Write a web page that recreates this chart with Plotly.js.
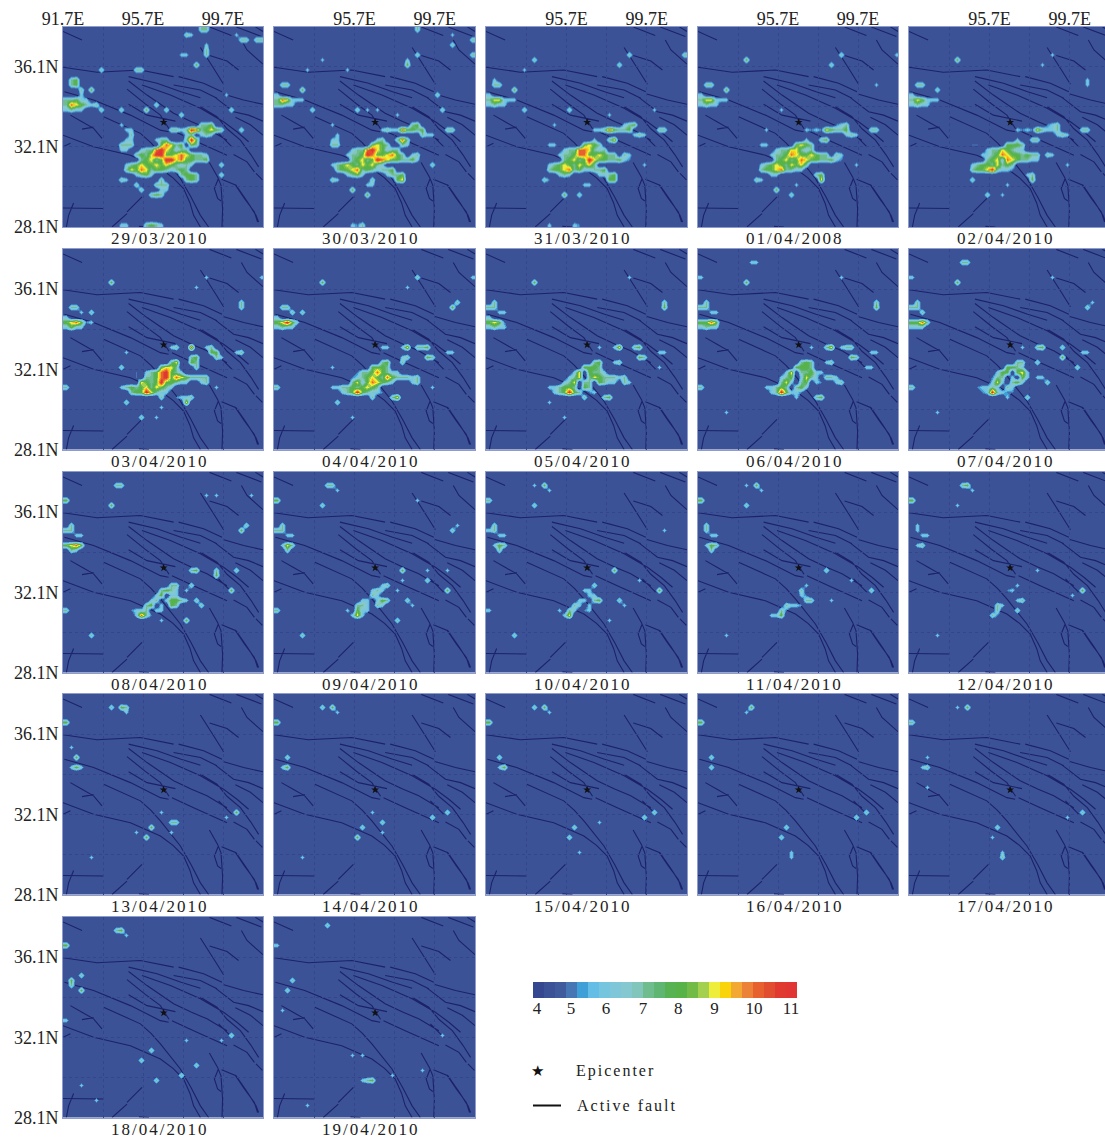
<!DOCTYPE html>
<html><head><meta charset="utf-8">
<script src="https://cdn.plot.ly/plotly-3.0.1.min.js"></script>
<style>html,body{margin:0;padding:0;background:#fff}#chart{width:1105px;height:1138px}
.annotation-text{letter-spacing:2px}</style></head>
<body><div id="chart"></div>
<script>
// Panel labels, as printed
const dates=["29/03/2010","30/03/2010","31/03/2010","01/04/2008","02/04/2010","03/04/2010","04/04/2010","05/04/2010","06/04/2010","07/04/2010","08/04/2010","09/04/2010","10/04/2010","11/04/2010","12/04/2010","13/04/2010","14/04/2010","15/04/2010","16/04/2010","17/04/2010","18/04/2010","19/04/2010"];
// Colour scale steps
const cbColors=["#35478f","#3b5297","#3f5b9c","#4776b4","#3fa0d8","#64bde4","#76c5de","#7fc7d8","#85c8cf","#82c5bb","#6fbd8f","#5fb673","#57b352","#57b348","#72bb46","#a3d04f","#eeee3a","#fad40a","#f2a833","#eb8238","#e6612d","#e14e2f","#e03a30","#e03532"];
const cbTickPos=[0.36,3.45,6.64,10,13.2,16.5,20.1,23.45];
const cbTickText=["4","5","6","7","8","9","10","11"];
const zMin=3.89, zMax=11.17, bgValue=3.4;
const epicenter=[96.73,33.32];
const gridLon=[91.7,93.7,95.7,97.7,99.7], gridLat=[28.1,30.1,32.1,34.1,36.1];
// Fault traces, lon/lat pairs
const faults=[
[91.7,37.85,92.65,37.43],[91.7,36.07,93.4,35.82,95.57,35.93,97.23,35.6],[97.48,35.6,98.73,35.27,99.65,34.85],
[94.98,35.6,96.4,35.27,97.6,34.85,98.57,34.55],[94.98,35.38,95.9,34.68,97.23,33.77,98.1,33.36,98.9,33.02,99.9,32.43],
[95.65,35.18,97.07,34.68,98.57,34.02,99.73,33.35,100.4,32.85,100.98,32.35],[97.23,35.18,98.57,34.93,99.4,34.52],
[94.9,34.98,95.8,34.25,96.57,33.68,97,33.0],[94.98,34.22,95.9,33.68,97.32,33.38],
[93.73,33.6,95.57,32.77,96.1,32.3,96.57,31.77,97.57,30.52,98.1,29.6,98.57,28.68,98.98,28.1],
[91.77,34.85,93.23,34.43,95.07,33.68,96.57,32.93,96.98,32.85],
[91.7,32.68,93.23,32.1,95.07,31.68,96.57,31.02,97.2,30.55,97.73,30.02,98.05,29.3,98.23,28.68,98.57,28.1],
[97.15,32.93,98.23,32.43,99.9,31.68],[92.07,33.68,92.65,33.35,93.23,33.02,93.65,32.52],[92.65,32.98,93.23,33.08],[91.7,32.1,92.07,32.28],
[98.57,37.05,99.23,36.02,99.73,35.22],[99.03,36.65,99.9,36.38,100.48,35.93],[99.03,38.08,100.12,37.65],[100.37,38.08,101.62,37.6],[101.32,38.08,101.7,37.85],
[100.62,37.43,100.9,36.93,101.7,36.22],[99.7,34.73,100.73,34.43,101.7,34.22],[99.32,34.55,100.23,33.85,100.98,33.68,101.7,33.38],
[98.57,34.1,99.4,33.6,99.9,33.0,100.57,32.43,101.1,31.7,101.48,31.1],[100.32,33.57,101.07,33.2,101.7,32.68],[99.48,32.77,100.15,32.1],
[100.23,31.72,100.9,31.35,101.27,30.85],[101.35,30.77,101.67,30.45],[99.02,31.32,99.43,30.6,99.6,30.18,99.68,29.0,99.65,28.1],
[99.47,30.52,99.27,30.02,99.43,29.52,99.6,29.4],[99.63,30.48,100.35,30.18,100.93,29.35,101.35,28.68,101.48,28.35],
[100.3,30.22,100.77,29.52,101.27,28.85,101.43,28.35],[91.7,29.05,93.73,29.02],[92.23,29.3,91.98,28.68,91.87,28.1],
[95.65,29.6,94.9,28.85],[94.9,28.77,94.15,28.1],[95.5,28.13,96.0,28.1]];
// Anomaly values by panel: "row:column:cells", one hex digit per 5-pixel cell ("." = background)
const d0=["0:27:77","1:24:76","1:34:6","2:35:77","2:38:77","3:28:6","4:28:7","5:23:66","5:28:7","7:26:8","8:7:7","8:14:77","10:1:78","11:1:78","12:3:7","12:5:8","13:3:6","13:32:6","14:0:77866","15:0:7a98767","16:0:6766","16:7:7","16:11:7","16:16:8","15:18:7","16:20:7","17:23:7","16:33:7","19:11:6","19:27:778","20:12:66","20:21:7767ba78987","20:35:7","21:13:7","21:24:67","21:27:676","22:12:66","22:18:677","22:24:7b8","23:11:777","23:19:8a978","23:25:87","24:11:66","24:15:677ab98677","25:14:7879bb889a987","25:27:76","26:15:78978bb9a88778","27:12:67898898987676","27:31:7","28:12:798a978876787","29:14:6786","29:23:7887","29:31:7","30:11:76","30:19:7","30:24:787","31:14:7","31:18:777","32:15:7","32:19:66","33:17:787","39:11:66","39:16:7876"];
const d1=["0:28:7","1:35:6","2:39:7","3:35:7","5:28:7","5:39:7","6:9:6","6:26:6","7:26:8","8:6:6","8:14:6","11:1:77","12:5:8","13:0:6","13:32:7","14:0:7a966","14:5:6","15:0:7766","16:7:7","16:16:7","16:18:6","16:20:6","16:33:7","17:24:6","19:11:6","19:27:78","20:21:6766a8878","20:34:77","21:12:6","21:29:766","22:11:66","22:24:7a7","22:20:67","23:11:77","23:19:8987","23:25:76","24:15:677ab98677","25:14:6778ba889a87","25:27:67","26:15:78978ba9887786","27:11:67898798976","27:31:7","28:12:7889a7876778","29:14:6786","29:22:6778","30:11:76","30:19:7","30:24:89","31:18:66","32:15:8","33:18:8","39:15:65","39:17:7"];
const d2=["5:28:7","6:9:7","7:26:7","5:39:7","8:7:6","10:1:6","11:1:77","12:5:8","13:0:6","14:0:79966","14:5:6","15:0:6766","16:7:7","16:16:7","16:33:6","17:24:6","19:13:6","19:27:678","20:21:667a8778","20:34:77","21:29:676","22:24:79","22:21:6","23:12:66","23:19:8987","24:15:677aa9767","25:14:6778aa889877","25:27:76","26:15:78978b98877865","27:12:6789879897","27:31:6","28:12:7889a7866778","29:14:676","29:22:6678","30:11:75","30:24:88","31:19:66","33:15:8","33:18:7","39:17:65","39:12:6"];
const d3=["5:28:7","5:39:6","7:26:7","6:9:8","11:1:77","11:35:6","12:5:8","13:0:6","14:0:79966","14:5:6","15:0:6766","16:16:6","19:27:567","20:13:6","20:21:656598778","20:34:77","21:29:676","22:24:78","22:21:6","23:12:66","23:19:8987","24:15:67799767","25:14:6778a9889877","25:27:76","26:15:78978a98877865","27:12:6789879897","27:31:6","28:12:7889a7766","29:23:78","29:14:66","30:11:76","30:24:9","31:19:6","32:15:8","33:18:7"];
const d4=["5:28:6","6:9:8","7:26:6","5:39:6","10:35:6","11:35:6","11:1:77","12:5:7","13:0:6","14:0:79866","14:5:6","15:0:6766","19:27:567","20:21:656597667","20:34:77","21:29:676","22:24:77","22:21:6","23:12:55","23:19:8887","24:15:67798766","25:14:6678a9887877","25:27:76","26:15:7896a987766","27:12:678879787","27:31:6","28:12:7889b7665","29:23:67","30:12:7","30:24:8","31:19:6","33:15:7","33:18:6"];
const d5=["5:28:6","5:39:6","6:9:8","7:26:6","10:35:7","11:35:7","11:1:77","12:3:6","12:5:7","13:0:6","14:0:89a85","14:5:6","15:0:6866","20:12:6","19:21:6","19:22:7","19:28:67","19:25:a","20:29:88","20:34:67","21:30:76","21:25:78","22:21:79","22:25:87","23:11:7","23:19:8997","23:26:7","24:14:5.678ab876","25:14:5.778ab8a9877","25:26:777","26:15:9878b88766","26:27:67","27:0:7","27:11:67878979876","27:30:6","28:13:788b9766","29:22:5667","29:19:7","30:12:7","30:24:9","31:19:6","33:15:7","33:18:6"];
const d6=["5:28:7","5:39:6","6:9:8","7:26:6","10:36:7","11:35:8","11:1:77","12:3:7","12:5:7","13:0:6","14:0:89b86","15:0:6766","19:21:6","19:22:6","19:25:69","19:28:778","20:34:66","21:30:87","21:25:67","22:21:78","22:25:7","23:11:6","23:19:8887","24:16:5778a8766","25:15:5678987a8777","25:26:767","26:15:7968a9876","26:27:67","27:0:7","27:11:6677878987","27:31:6","28:13:678b87665","29:19:7","29:23:79","30:12:7","33:15:6"];
const d7=["5:28:6","6:9:8","10:35:7","11:35:8","10:1:7","11:0:77","12:2:66","13:0:6","14:0:8985","15:0:6766","19:22:6","19:25:69","19:29:78","20:34:66","21:30:87","22:25:67","22:21:78","23:34:6","23:19:8887","24:17:69.8776","25:16:679.79877","25:25:767","26:15:679.77.8766","26:27:76","27:12:667887.87","28:13:678b87.56","29:19:7","29:23:78","30:12:6","33:15:6"];
const d8=["2:10:6","2:11:6","5:0:6","5:28:6","6:9:8","10:35:7","11:35:8","10:1:7","11:0:77","12:2:66","14:0:88a8","15:0:6766","19:22:6","19:25:79","19:28:677","20:34:66","21:30:87","22:25:67","22:20:787","23:33:66","23:19:8887","24:17:69.77866","25:16:678.6976","25:25:776","26:16:796.78.65","26:27:67","27:0:7","27:13:66787.786","28:14:67b8665","29:19:6","29:23:78","32:5:6"];
const d9=["2:10:7","2:11:7","5:0:6","5:28:6","6:9:8","10:36:6","11:35:7","10:1:7","11:0:77","12:2:7","14:0:88a7","15:0:666","19:22:6","19:25:78","19:30:7","20:34:66","21:30:8","22:25:7","22:21:77","23:33:7","23:19:8876","24:17:688.896","25:16:577.6.86","25:25:66","26:16:696.786","26:27:7","27:0:7","27:13:56676.76","28:14:56b7655","29:19:6","29:23:7","32:5:6"];
const d10=["2:10:7","2:11:7","5:0:8","4:30:6","4:28:6","4:37:6","6:9:8","10:36:7","11:35:8","10:1:7","11:0:77","12:2:66","14:0:89a8","15:1:76","19:25:78","19:30:7","20:30:8","19:34:7","22:25:7","23:33:8","22:21:77","23:19:7876","23:24:6","24:18:68.66","25:17:67.68876","25:26:7","26:16:78.6.87","26:27:7","27:0:7","27:13:5667.66","28:14:6a75","29:19:6","29:24:8","32:5:7"];
const d11=["2:10:77","3:12:6","5:0:8","5:28:6","6:9:7","10:36:6","11:35:7","10:1:7","11:0:77","12:2:66","14:1:697","15:2:7","19:25:8","19:30:6","21:30:7","19:34:6","21:25:6","23:34:8","22:21:67","23:19:676","23:24:6","24:19:76","25:17:66.687","25:26:7","26:16:776.76","26:27:6","27:0:7","27:14:6.866","28:15:696","29:24:7","32:5:7"];
const d12=["2:11:8","2:9:6","3:12:6","5:0:7","6:9:7","10:1:7","11:0:67","12:2:66","11:35:6","14:1:687","15:2:7","19:25:8","21:30:6","23:34:8","22:21:7","23:19:66","24:20:66","25:18:66.78","25:26:7","26:17:76.6","26:27:6","27:14:6.76.56","28:15:69","29:24:6","32:5:7","27:0:6"];
const d13=["2:11:8","2:9:6","3:12:6","5:0:8","6:9:7","10:1:7","11:1:7","12:2:66","14:1:687","15:2:7","19:25:7","21:30:6","23:34:7","22:21:6","23:20:7","24:20:65","25:21:77","26:17:7665","25:26:6","27:16:75","28:15:68","28:14:6","32:5:6"];
const d14=["2:11:8","2:10:7","3:12:6","5:0:8","6:9:6","10:1:6","11:1:6","12:2:66","14:1:67","19:25:6","23:34:8","24:32:6","22:21:6","23:19:56","25:21:67","26:17:76","27:17:7","27:21:7","28:16:75","32:5:6"];
const d15=["2:11:8","2:12:7","2:9:7","3:12:6","5:0:8","10:1:6","12:2:8","14:1:686","23:34:8","24:32:6","23:19:6","25:21:77","26:17:8","27:21:6","28:16:8","27:14:6","32:5:6"];
const d16=["2:11:8","2:9:7","3:12:6","5:0:8","12:2:7","14:1:68","23:34:7","24:31:7","23:19:6","25:21:7","26:17:7","27:21:6","28:16:8","32:5:6"];
const d17=["2:11:8","2:9:7","3:12:6","5:0:8","12:2:7","14:2:68","23:33:7","24:31:7","26:17:7","25:22:6","28:16:7","31:18:6"];
const d18=["2:10:8","3:9:6","5:0:8","12:2:7","14:2:7","23:33:7","24:31:7","26:17:7","28:16:7","31:18:6","32:18:6"];
const d19=["2:11:8","2:9:6","5:0:7","12:3:6","14:2:67","18:3:6","23:34:7","24:31:6","26:17:7","28:16:6","31:18:6","32:18:7"];
const d20=["2:11:8","2:10:7","3:12:6","5:0:8","12:1:8","11:3:7","13:1:7","14:3:8","26:17:7","28:15:7","32:18:7","31:23:7","29:26:7","24:31:6","23:33:7","24:24:6","36:6:6","20:0:6","33:3:6"];
const d21=["1:10:7","5:0:6","12:3:7","14:2:7","18:1:6","27:15:6","32:17:678","31:23:6","30:29:6","23:33:6","27:17:6","37:6:6"];
const panels=[d0,d1,d2,d3,d4,d5,d6,d7,d8,d9,d10,d11,d12,d13,d14,d15,d16,d17,d18,d19,d20,d21];

const colLeft=[63,274,486,698,909], colW=[200,201,201,200,196], colMaxLon=[101.7,101.7,101.7,101.7,101.45], rowTop=[26.5,249,472,694,917], rowH=200.5, W=1105, H=1138;
const N=40, lonCells=[], latCells=[];
for(let i=0;i<N;i++){lonCells.push(91.825+0.25*i);latCells.push(28.225+0.25*i);}
const colorscale=[];cbColors.forEach((c,i)=>{colorscale.push([i/24,c],[(i+1)/24,c]);});
// Panels: the lowest bands stay clear so that the faults and grid show through the background only
const panelScale=colorscale.map((s,i)=>i<6?[s[0],'rgba(59,82,151,0)']:s);
function toGrid(list){
  const z=[];for(let r=0;r<N;r++)z.push(new Array(N).fill(bgValue));
  list.forEach(s=>{const [r,c,v]=s.split(':');
    [...v].forEach((ch,i)=>{const col=+c+i,row=+r;if(ch!=='.'&&col<N&&row<N)z[N-1-row][col]=parseInt(ch,16);});});
  return z;
}
const faultPath=faults.map(f=>{let s='';for(let i=0;i<f.length;i+=2)s+=(i?'L':'M')+f[i]+','+f[i+1];return s;}).join(' ');

const data=[],annotations=[],shapes=[],layout={width:W,height:H,margin:{l:0,r:0,t:0,b:0},paper_bgcolor:'#fff',plot_bgcolor:'#3b5297',showlegend:false,hovermode:false,font:{family:'"Liberation Serif",serif',color:'#222',size:18}};
panels.forEach((p,i)=>{
  const col=i%5,row=Math.floor(i/5),k=i+1,xa='x'+(k>1?k:''),ya='y'+(k>1?k:'');
  shapes.push({type:'path',layer:'below',xref:xa,yref:ya,path:faultPath,line:{color:'#1d2268',width:1.1},opacity:1});
  data.push({type:'heatmap',x:lonCells,y:latCells,z:toGrid(p),zmin:zMin,zmax:zMax,zsmooth:'best',colorscale:panelScale,showscale:false,xaxis:xa,yaxis:ya,hoverinfo:'skip'});
  data.push({type:'scatter',mode:'markers',x:[epicenter[0]],y:[epicenter[1]],marker:{symbol:'star',size:6,color:'#111'},xaxis:xa,yaxis:ya,hoverinfo:'skip'});
  const xLab=v=>(v===95.7||v===99.7||(v===91.7&&col===0))?v.toFixed(1)+'E':'';
  const yLab=v=>(v===28.1||v===32.1||v===36.1)?v.toFixed(1)+'N':'';
  layout['xaxis'+(k>1?k:'')]={domain:[colLeft[col]/W,(colLeft[col]+colW[col])/W],range:[91.7,colMaxLon[col]],anchor:ya,side:'top',showgrid:true,gridcolor:'#33458c',griddash:'dot',gridwidth:1,zeroline:false,ticks:'',fixedrange:true,
    showticklabels:row===0,tickmode:'array',tickvals:gridLon,ticktext:gridLon.map(xLab),tickfont:{size:18},ticklabelstandoff:-7,showline:true,linecolor:'#8f9bcb',linewidth:1,mirror:true};
  layout['yaxis'+(k>1?k:'')]={domain:[1-(rowTop[row]+rowH)/H,1-rowTop[row]/H],range:[28.1,38.1],anchor:xa,showgrid:true,gridcolor:'#33458c',griddash:'dot',gridwidth:1,zeroline:false,ticks:'',fixedrange:true,
    showticklabels:col===0,tickmode:'array',tickvals:gridLat,ticktext:gridLat.map(yLab),tickfont:{size:18},showline:true,linecolor:'#8f9bcb',linewidth:1,mirror:true};
  annotations.push({xref:'paper',yref:'paper',x:(colLeft[col]+100-4)/W,y:1-(rowTop[row]+212)/H,text:dates[i],showarrow:false,xanchor:'center',yanchor:'middle',font:{size:17,color:'#222'}});
});
// Colour bar
const cbK=panels.length+1, cbCells=cbColors.map((c,i)=>i+0.5), cbValues=cbColors.map((c,i)=>zMin+(i+0.5)*(zMax-zMin)/24);
data.push({type:'heatmap',x:cbCells,y:[0],z:[cbValues],zmin:zMin,zmax:zMax,colorscale,showscale:false,xaxis:'x'+cbK,yaxis:'y'+cbK,hoverinfo:'skip'});
layout['xaxis'+cbK]={domain:[533/W,797/W],range:[0,24],anchor:'y'+cbK,showgrid:false,zeroline:false,ticks:'',fixedrange:true,tickmode:'array',tickvals:cbTickPos,ticktext:cbTickText,tickfont:{size:17},ticklabelstandoff:-2};
layout['yaxis'+cbK]={domain:[1-998/H,1-982/H],range:[-0.5,0.5],anchor:'x'+cbK,showgrid:false,zeroline:false,showticklabels:false,ticks:'',fixedrange:true};
// Key
annotations.push({xref:'paper',yref:'paper',x:538/W,y:1-1071/H,text:'★',showarrow:false,xanchor:'center',yanchor:'middle',font:{size:15,color:'#111'}});
annotations.push({xref:'paper',yref:'paper',x:574/W,y:1-1071/H,text:'Epicenter',showarrow:false,xanchor:'left',yanchor:'middle',font:{size:16,color:'#222'}});
annotations.push({xref:'paper',yref:'paper',x:575/W,y:1-1105.5/H,text:'Active fault',showarrow:false,xanchor:'left',yanchor:'middle',font:{size:16,color:'#222'}});
shapes.push({type:'line',xref:'paper',yref:'paper',x0:533/W,x1:561/W,y0:1-1105.5/H,y1:1-1105.5/H,line:{color:'#111',width:2}});
layout.shapes=shapes;
layout.annotations=annotations;
Plotly.newPlot('chart',data,layout,{displayModeBar:false,staticPlot:true});
</script></body></html>
